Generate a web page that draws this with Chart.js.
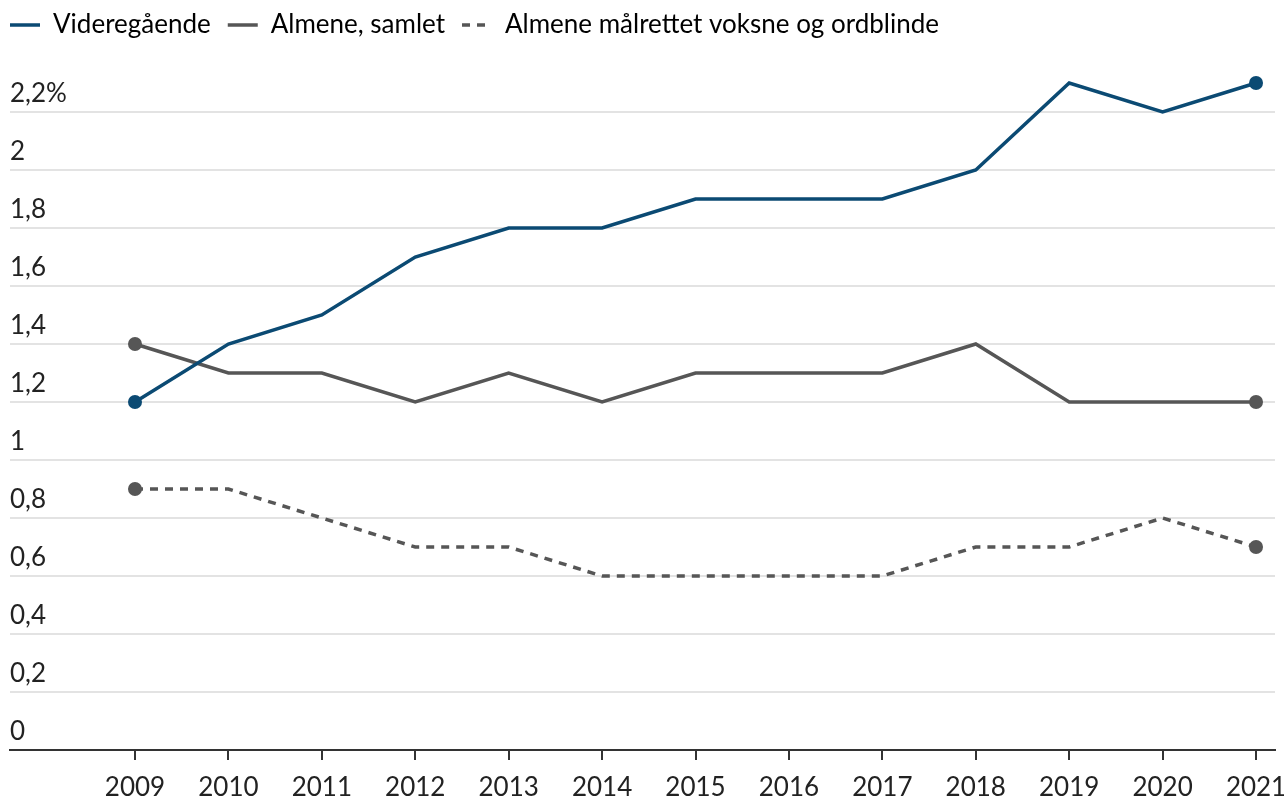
<!DOCTYPE html>
<html lang="no">
<head>
<meta charset="utf-8">
<script src="https://cdn.jsdelivr.net/npm/chart.js@4.4.1/dist/chart.umd.min.js"></script>
<style>
  html, body { margin: 0; padding: 0; background: #fff; }
  #wrap { width: 1284px; height: 800px; }
</style>
</head>
<body>
<div id="wrap"><canvas id="chart"></canvas></div>
<script>
  // data
  var years = [2009, 2010, 2011, 2012, 2013, 2014, 2015, 2016, 2017, 2018, 2019, 2020, 2021];
  var videregaende = [1.2, 1.4, 1.5, 1.7, 1.8, 1.8, 1.9, 1.9, 1.9, 2.0, 2.3, 2.2, 2.3];
  var almeneSamlet = [1.4, 1.3, 1.3, 1.2, 1.3, 1.2, 1.3, 1.3, 1.3, 1.4, 1.2, 1.2, 1.2];
  var almeneMalrettet = [0.9, 0.9, 0.8, 0.7, 0.7, 0.6, 0.6, 0.6, 0.6, 0.7, 0.7, 0.8, 0.7];
  var yTicks = [0, 0.2, 0.4, 0.6, 0.8, 1, 1.2, 1.4, 1.6, 1.8, 2, 2.2];

  var blue = '#0b4a73';
  var grey = '#565656';
  var font = 'Lato, "Open Sans", sans-serif';

  function pts(vals) {
    return vals.map(function (v, i) { return { x: years[i], y: v }; });
  }
  // dots only on first and last point
  function endDots(n) {
    return years.map(function (y, i) { return (i === 0 || i === years.length - 1) ? n : 0; });
  }

  // push the plot down below the legend
  var legendSpace = {
    id: 'legendSpace',
    beforeInit: function (chart) {
      var fit = chart.legend.fit;
      chart.legend.fit = function () {
        fit.call(chart.legend);
        this.height = 88;
      };
    }
  };

  Chart.defaults.font.family = font;
  Chart.defaults.color = '#222';

  function lineSet(label, vals, color, dash) {
    return {
      label: label,
      data: pts(vals),
      borderColor: color,
      backgroundColor: color,
      borderWidth: 3.5,
      borderDash: dash || [],
      pointRadius: endDots(7),
      pointHoverRadius: endDots(7),
      pointBorderWidth: 0,
      tension: 0,
      clip: false
    };
  }

  new Chart(document.getElementById('chart'), {
    type: 'line',
    data: {
      datasets: [
        lineSet('Videregående', videregaende, blue),
        lineSet('Almene, samlet', almeneSamlet, grey),
        lineSet('Almene målrettet voksne og ordblinde', almeneMalrettet, grey, [8, 7])
      ]
    },
    plugins: [legendSpace],
    options: {
      responsive: true,
      maintainAspectRatio: false,
      animation: false,
      layout: { padding: { left: -7, right: 9, top: -5, bottom: 0 } },
      plugins: {
        tooltip: { enabled: false },
        legend: {
          align: 'start',
          labels: {
            usePointStyle: true,
            pointStyleWidth: 30,
            padding: 17,
            color: '#222',
            font: { size: 26, lineHeight: 1 },
            generateLabels: function (chart) {
              return chart.data.datasets.map(function (ds, i) {
                return {
                  text: ds.label,
                  fillStyle: ds.borderColor,
                  strokeStyle: ds.borderColor,
                  lineWidth: 3.5,
                  lineDash: ds.borderDash,
                  pointStyle: 'line',
                  hidden: false,
                  datasetIndex: i
                };
              });
            }
          }
        }
      },
      scales: {
        x: {
          type: 'linear',
          min: 2007.662,
          max: 2021.203,
          afterBuildTicks: function (axis) {
            axis.ticks = years.map(function (y) { return { value: y }; });
          },
          afterFit: function (axis) {
            axis.height = 50;
            axis.paddingLeft = 0;
            axis.paddingRight = 0;
          },
          border: { display: true, color: '#333', width: 2 },
          grid: { drawOnChartArea: false, drawTicks: true, tickLength: 10, tickColor: '#333', lineWidth: 2 },
          ticks: {
            autoSkip: false,
            maxRotation: 0,
            padding: 15,
            color: '#222',
            font: { size: 26, lineHeight: 1 },
            callback: function (v) { return String(v); }
          }
        },
        y: {
          min: 0,
          max: 2.3,
          afterBuildTicks: function (axis) {
            axis.ticks = yTicks.map(function (v) { return { value: v }; });
          },
          afterFit: function (axis) { axis.width = 17; },
          border: { display: false },
          grid: { color: '#e3e3e3', lineWidth: 2, drawTicks: false },
          ticks: {
            mirror: true,
            padding: 0,
            labelOffset: -18,
            color: '#222',
            font: { size: 26, lineHeight: 1 },
            callback: function (v) {
              var s = String(Math.round(v * 10) / 10).replace('.', ',');
              return v === 2.2 ? s + '%' : s;
            }
          }
        }
      }
    }
  });
</script>
</body>
</html>
